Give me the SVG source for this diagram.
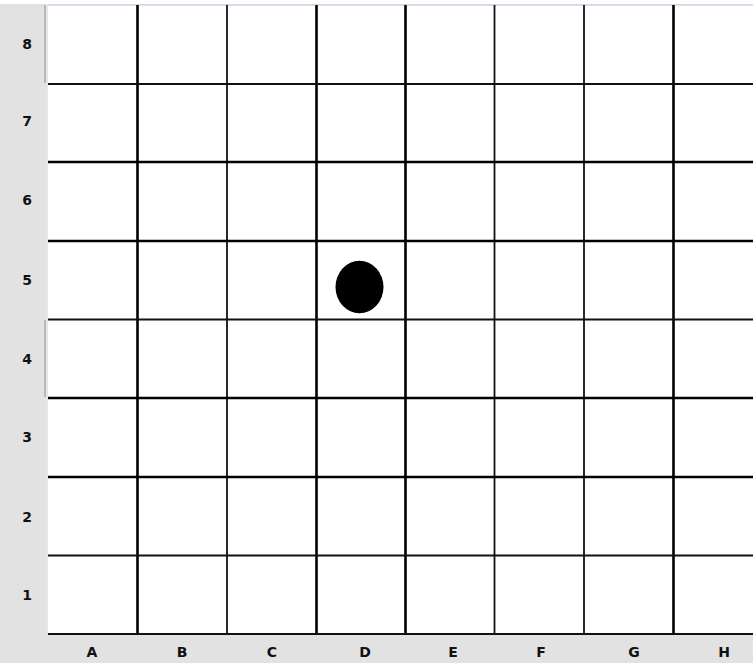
<svg xmlns="http://www.w3.org/2000/svg" width="753" height="663" viewBox="0 0 753 663">
<style>
.lbl{font-family:"DejaVu Sans",sans-serif;font-weight:bold;font-size:14px;fill:#111;text-anchor:middle}
.thk{stroke:#000;stroke-width:2.6}
.thn{stroke:#111;stroke-width:1.8}
</style>
<rect x="0" y="0" width="753" height="663" fill="#e2e2e2"/>
<rect x="0" y="0" width="753" height="4" fill="#fff"/>
<rect x="48" y="5" width="705" height="629" fill="#fff"/>
<line x1="48" y1="5" x2="753" y2="5" stroke="#cfd3e6" stroke-width="1.5"/>
<line x1="47" y1="5" x2="47" y2="634" stroke="#e8eaf4" stroke-width="1"/>
<line x1="45" y1="5" x2="45" y2="83" stroke="#aaa" stroke-width="1.5"/>
<line x1="45" y1="320" x2="45" y2="397" stroke="#aaa" stroke-width="1.5"/>
<g id="connectors">
<line class="thk" x1="137.5" y1="5" x2="137.5" y2="634"/>
<line class="thn" x1="227" y1="5" x2="227" y2="634"/>
<line class="thk" x1="316.5" y1="5" x2="316.5" y2="634"/>
<line class="thk" x1="405.5" y1="5" x2="405.5" y2="634"/>
<line class="thn" x1="494.5" y1="5" x2="494.5" y2="634"/>
<line class="thn" x1="584" y1="5" x2="584" y2="634"/>
<line class="thk" x1="673.5" y1="5" x2="673.5" y2="634"/>
<line class="thn" x1="48" y1="84" x2="753" y2="84"/>
<line class="thk" x1="48" y1="162" x2="753" y2="162"/>
<line class="thk" x1="48" y1="241" x2="753" y2="241"/>
<line class="thn" x1="48" y1="319.5" x2="753" y2="319.5"/>
<line class="thk" x1="48" y1="398" x2="753" y2="398"/>
<line class="thk" x1="48" y1="477" x2="753" y2="477"/>
<line class="thn" x1="48" y1="555.5" x2="753" y2="555.5"/>
<line class="thn" x1="48" y1="634" x2="753" y2="634"/>
</g>
<g id="stone"><ellipse cx="359.5" cy="287" rx="24" ry="26.3" fill="#000"/></g>
<g id="rows">
<text class="lbl" x="27" y="49">8</text>
<text class="lbl" x="27" y="126">7</text>
<text class="lbl" x="27" y="205">6</text>
<text class="lbl" x="27" y="285">5</text>
<text class="lbl" x="27" y="364">4</text>
<text class="lbl" x="27" y="442">3</text>
<text class="lbl" x="27" y="522">2</text>
<text class="lbl" x="27" y="600">1</text>
</g>
<g id="cols">
<text class="lbl" x="92" y="657">A</text>
<text class="lbl" x="182" y="657">B</text>
<text class="lbl" x="272" y="657">C</text>
<text class="lbl" x="365" y="657">D</text>
<text class="lbl" x="453" y="657">E</text>
<text class="lbl" x="541" y="657">F</text>
<text class="lbl" x="634" y="657">G</text>
<text class="lbl" x="724" y="657">H</text>
</g>
</svg>
